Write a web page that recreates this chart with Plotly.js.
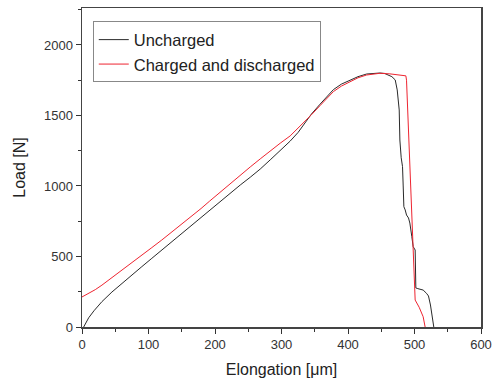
<!DOCTYPE html>
<html>
<head>
<meta charset="utf-8">
<script src="https://cdn.plot.ly/plotly-3.0.1.min.js"></script>
<style>
html,body{margin:0;padding:0;background:#fff;}
#chart{width:492px;height:381px;}
</style>
</head>
<body>
<div id="chart"></div>
<script>
// Uncharged specimen: elongation [µm] vs load [N]
var unchargedX = [2.5, 5, 10, 18, 30, 45, 60, 75, 90, 105, 120, 135, 150, 165, 179, 193, 208, 223, 238, 253, 268, 283, 298, 313, 325, 335, 345, 358, 368, 378, 390, 403, 415, 428, 440, 448, 455, 461, 466, 471, 474, 477, 478, 480, 482, 483, 484, 486, 488, 491, 493, 496, 498, 501, 502, 505, 508, 513, 518, 521, 524, 526, 527, 529];
var unchargedY = [0, 26, 65, 115, 180, 248, 310, 370, 428, 487, 546, 605, 664, 723, 778, 832, 889, 948, 1007, 1062, 1120, 1185, 1250, 1318, 1380, 1445, 1510, 1580, 1635, 1683, 1722, 1752, 1775, 1794, 1800, 1801, 1798, 1787, 1775, 1752, 1681, 1539, 1326, 1200, 1137, 1000, 853, 830, 794, 773, 737, 640, 570, 546, 277, 272, 270, 262, 239, 220, 156, 99, 62, 0];

// Charged and discharged specimen
var chargedX = [0, 10, 20, 30, 45, 60, 75, 90, 105, 120, 135, 150, 165, 179, 192, 208, 223, 238, 253, 268, 283, 298, 313, 323, 333, 345, 358, 368, 378, 390, 403, 415, 428, 438, 448, 463, 478, 487, 488, 494, 501, 507, 513, 516];
var chargedY = [213, 238, 265, 297, 349, 402, 456, 510, 563, 617, 672, 727, 785, 840, 893, 958, 1020, 1078, 1135, 1192, 1250, 1303, 1355, 1400, 1445, 1505, 1570, 1622, 1669, 1708, 1740, 1767, 1787, 1795, 1799, 1795, 1788, 1781, 1750, 972, 191, 140, 73, 0];

var seriesNames = ['Uncharged', 'Charged and discharged'];
var xTicks = [0, 100, 200, 300, 400, 500, 600];
var yTicks = [0, 500, 1000, 1500, 2000];

var traces = [
  {x: unchargedX, y: unchargedY, name: seriesNames[0], mode: 'lines', type: 'scatter',
   line: {color: '#2a2a2a', width: 1}},
  {x: chargedX, y: chargedY, name: seriesNames[1], mode: 'lines', type: 'scatter',
   line: {color: '#ee2430', width: 1}}
];

var layout = {
  width: 492, height: 381,
  margin: {l: 82, r: 11, t: 8, b: 54},
  paper_bgcolor: '#fff', plot_bgcolor: '#fff',
  font: {family: 'Liberation Sans, Arial, sans-serif', color: '#333'},
  showlegend: true,
  legend: {x: 0.027, y: 0.958, xanchor: 'left', yanchor: 'top',
    bordercolor: '#888', borderwidth: 1, bgcolor: '#fff',
    font: {size: 16.5, color: '#222'}, tracegroupgap: 0},
  xaxis: {
    range: [0, 600], tickvals: xTicks, ticktext: xTicks.map(String),
    ticks: 'outside', ticklen: 5, tickwidth: 1, tickcolor: '#333',
    minor: {dtick: 50, ticks: 'outside', ticklen: 3, tickcolor: '#333', showgrid: false},
    showgrid: false, zeroline: false,
    showline: true, linecolor: '#444', linewidth: 1.5, mirror: true,
    tickfont: {size: 13, color: '#333'},
    title: {text: 'Elongation [μm]', font: {size: 16, color: '#222'}, standoff: 12}
  },
  yaxis: {
    range: [0, 2262], tickvals: yTicks, ticktext: yTicks.map(String),
    ticks: 'outside', ticklen: 5, tickwidth: 1, tickcolor: '#333',
    minor: {dtick: 250, ticks: 'outside', ticklen: 3, tickcolor: '#333', showgrid: false},
    showgrid: false, zeroline: false,
    showline: true, linecolor: '#444', linewidth: 1.5, mirror: true,
    tickfont: {size: 13, color: '#333'},
    title: {text: 'Load [N]', font: {size: 16, color: '#222'}, standoff: 14}
  }
};

Plotly.newPlot('chart', traces, layout, {displayModeBar: false, staticPlot: true});
</script>
</body>
</html>
